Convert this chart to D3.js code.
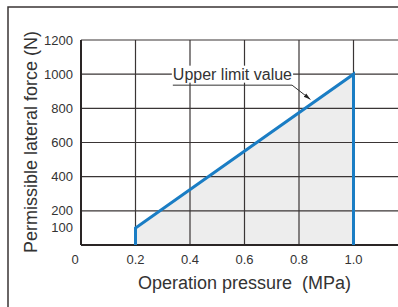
<!DOCTYPE html>
<html>
<head>
<meta charset="utf-8">
<script src="https://cdn.jsdelivr.net/npm/d3@7"></script>
<style>
body { margin: 0; background: #fff; }
text { font-family: "Liberation Sans", Arial, sans-serif; fill: #333; }
</style>
</head>
<body>
<div id="chart"></div>
<script>
var pressure = [0.2, 0.2, 1.0, 1.0];
var force = [0, 100, 1000, 0];
var xTicks = [0, 0.2, 0.4, 0.6, 0.8, 1.0];
var yTicks = [100, 200, 400, 600, 800, 1000, 1200];
var yGrid = [200, 400, 600, 800, 1000, 1200];

var W = 398, H = 307;
var margin = { top: 40, left: 81, bottom: 62 };

var x = d3.scaleLinear().domain([0, 1.2]).range([margin.left, margin.left + 327]);
var y = d3.scaleLinear().domain([0, 1200]).range([H - margin.bottom, margin.top]);

var svg = d3.select("#chart").append("svg")
	.attr("width", W)
	.attr("height", H);

// outer frame (runs off the right and bottom)
svg.append("rect")
	.attr("x", 8).attr("y", 7)
	.attr("width", W).attr("height", H)
	.style("fill", "none")
	.style("stroke", "#3a3535")
	.style("stroke-width", 1.5);

var pts = pressure.map(function(d, i) { return [d, force[i]]; });

// shaded area
svg.append("path")
	.datum(pts)
	.attr("d", d3.line().x(function(d) { return x(d[0]); }).y(function(d) { return y(d[1]); }))
	.style("fill", "#ededed");

// grid
svg.selectAll(".hgrid")
	.data(yGrid)
	.enter().append("line")
	.attr("x1", x(0)).attr("x2", W)
	.attr("y1", function(d) { return y(d); })
	.attr("y2", function(d) { return y(d); })
	.style("stroke", "#3a3535")
	.style("stroke-width", 1.2);

svg.selectAll(".vgrid")
	.data(xTicks.slice(1))
	.enter().append("line")
	.attr("x1", function(d) { return x(d); })
	.attr("x2", function(d) { return x(d); })
	.attr("y1", y(1200)).attr("y2", y(0))
	.style("stroke", "#3a3535")
	.style("stroke-width", 1.2);

// axes
svg.append("line")
	.attr("x1", x(0)).attr("x2", x(0))
	.attr("y1", y(1200)).attr("y2", y(0))
	.style("stroke", "#2a2525").style("stroke-width", 2);
svg.append("line")
	.attr("x1", x(0)).attr("x2", W)
	.attr("y1", y(0)).attr("y2", y(0))
	.style("stroke", "#2a2525").style("stroke-width", 2);

// tick labels
svg.selectAll(".ylab")
	.data(yTicks)
	.enter().append("text")
	.attr("x", x(0) - 8)
	.attr("y", function(d) { return y(d) + 4.5; })
	.attr("text-anchor", "end")
	.style("font-size", "13px")
	.text(function(d) { return d; });

svg.selectAll(".xlab")
	.data(xTicks)
	.enter().append("text")
	.attr("x", function(d) { return d === 0 ? x(d) - 6 : x(d); })
	.attr("y", y(0) + 19)
	.attr("text-anchor", "middle")
	.style("font-size", "13px")
	.text(function(d) { return d === 0 ? "0" : d.toFixed(1); });

// the limit line
svg.append("path")
	.datum(pts)
	.attr("d", d3.line().x(function(d) { return x(d[0]); }).y(function(d) { return y(d[1]); }))
	.style("fill", "none")
	.style("stroke", "#1a7dc4")
	.style("stroke-width", 3)
	.style("stroke-linejoin", "miter");

// annotation
var ax = x(0.337), ay = y(1000);
var label = svg.append("text")
	.attr("x", ax)
	.attr("y", ay + 5.5)
	.style("font-size", "16px")
	.text("Upper limit value");
var bb = label.node().getBBox();
svg.insert("rect", "text")
	.attr("x", bb.x - 1).attr("y", bb.y)
	.attr("width", bb.width + 2).attr("height", bb.height)
	.style("fill", "#fff");
label.raise();

var ux2 = bb.x + bb.width;
svg.append("line")
	.attr("x1", bb.x).attr("x2", ux2)
	.attr("y1", ay + 11).attr("y2", ay + 11)
	.style("stroke", "#333").style("stroke-width", 1);

svg.append("defs").append("marker")
	.attr("id", "arr")
	.attr("viewBox", "0 0 10 10")
	.attr("refX", 10).attr("refY", 5)
	.attr("markerWidth", 7).attr("markerHeight", 7)
	.attr("orient", "auto")
	.append("path")
	.attr("d", "M0,2 L10,5 L0,8 Z")
	.style("fill", "#222");

svg.append("line")
	.attr("x1", ux2).attr("y1", ay + 11)
	.attr("x2", x(0.842)).attr("y2", y(852))
	.style("stroke", "#333").style("stroke-width", 1)
	.attr("marker-end", "url(#arr)");

// axis titles
svg.append("text")
	.attr("x", x(0.6))
	.attr("y", 289)
	.attr("text-anchor", "middle")
	.style("font-size", "18px")
	.style("white-space", "pre")
	.text("Operation pressure\u00a0\u00a0(MPa)");

svg.append("text")
	.attr("transform", "translate(37,142) rotate(-90)")
	.attr("text-anchor", "middle")
	.style("font-size", "18px")
	.text("Permissible lateral force (N)");
</script>
</body>
</html>
